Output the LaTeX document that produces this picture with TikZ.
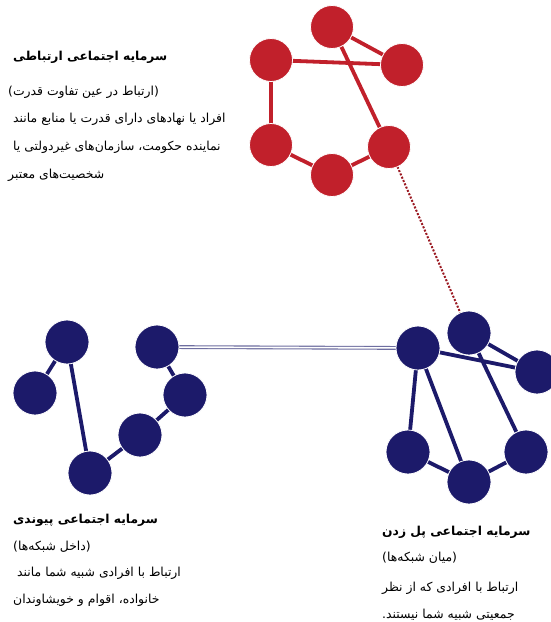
\documentclass[tikz,border=0pt]{standalone}
\usepackage{fontspec}
\newfontfamily\arabicfont[Script=Arabic]{DejaVu Sans}
\TeXXeTstate=1
\definecolor{nred}{HTML}{C1202B}
\definecolor{nblue}{HTML}{1C1A6A}
\definecolor{bridge}{HTML}{6E6EA0}
\begin{document}
\begin{tikzpicture}[x=1pt,y=-1pt,
  rnode/.style={circle,fill=nred,draw=white,line width=0.8pt,minimum size=43pt,inner sep=0pt},
  bnode/.style={circle,fill=nblue,draw=white,line width=0.8pt,minimum size=44pt,inner sep=0pt},
  redge/.style={draw=nred,line width=3.8pt},
  bedge/.style={draw=nblue,line width=3.8pt},
  ttl/.style={anchor=west,inner sep=0pt,font=\arabicfont\bfseries\fontsize{12.3}{14}\selectfont},
  txt/.style={anchor=west,inner sep=0pt,font=\arabicfont\fontsize{12.4}{14}\selectfont}]
\useasboundingbox (0,0) rectangle (551,622);
\fill[white] (0,0) rectangle (551,622);
% red cluster coordinates
\coordinate (r1) at (332,27);
\coordinate (r2) at (271,60);
\coordinate (r3) at (402,65);
\coordinate (r4) at (271,145);
\coordinate (r5) at (332,175);
\coordinate (r6) at (389,147);
% blue left
\coordinate (a) at (67,342);
\coordinate (b) at (35,393);
\coordinate (c) at (90,473);
\coordinate (d) at (140,435);
\coordinate (e) at (185,395);
\coordinate (f) at (157,347);
% blue right
\coordinate (g) at (418,348);
\coordinate (h) at (469,333);
\coordinate (i) at (537,372);
\coordinate (j) at (408,452);
\coordinate (k) at (469,482);
\coordinate (l) at (526,452);
% edges
\draw[redge] (r1)--(r3) (r2)--(r3) (r1)--(r6) (r2)--(r4) (r4)--(r5) (r5)--(r6);
\draw[bedge] (a)--(b) (a)--(c) (c)--(d) (d)--(e) (e)--(f);
\draw[bedge] (h)--(i) (g)--(i) (h)--(l) (g)--(j) (g)--(k) (j)--(k) (k)--(l);
\draw[bridge,double=white,double distance=1.6pt,line width=1.1pt] (f)--(g);
\draw[nred!80!black,line width=2pt,dash pattern=on 2pt off 1.6pt] (r6)--(h);
% nodes
\foreach \n in {r1,r2,r3,r4,r5,r6} \node[rnode] (n\n) at (\n) {};
\foreach \n in {a,b,c,d,e,f,g,h,i,j,k,l} \node[bnode] (n\n) at (\n) {};
% texts top-left
\node[ttl] (t1) at (13,57) {\beginR سرمایه اجتماعی ارتباطی\endR};
\node[txt] (t2) at (8,92) {\beginR (ارتباط در عین تفاوت قدرت)\endR};
\node[txt] (t3) at (13,119) {\beginR افراد یا نهادهای دارای قدرت یا منابع مانند\endR};
\node[txt] (t4) at (13,147) {\beginR نماینده حکومت، سازمان‌های غیردولتی یا\endR};
\node[txt] (t5) at (8,175) {\beginR شخصیت‌های معتبر\endR};
% bottom-left
\node[ttl] (b1) at (13,520) {\beginR سرمایه اجتماعی پیوندی\endR};
\node[txt] (b2) at (13,547) {\beginR (داخل شبکه‌ها)\endR};
\node[txt] (b3) at (17,573) {\beginR ارتباط با افرادی شبیه شما مانند\endR};
\node[txt] (b4) at (13,600) {\beginR خانواده، اقوام و خویشاوندان\endR};
% bottom-right
\node[ttl] (c1) at (382,532) {\beginR سرمایه اجتماعی پل زدن\endR};
\node[txt] (c2) at (382,558) {\beginR (میان شبکه‌ها)\endR};
\node[txt] (c3) at (382,588) {\beginR ارتباط با افرادی که از نظر\endR};
\node[txt] (c4) at (382,615) {\beginR جمعیتی شبیه شما نیستند.\endR};
\end{tikzpicture}
\end{document}
